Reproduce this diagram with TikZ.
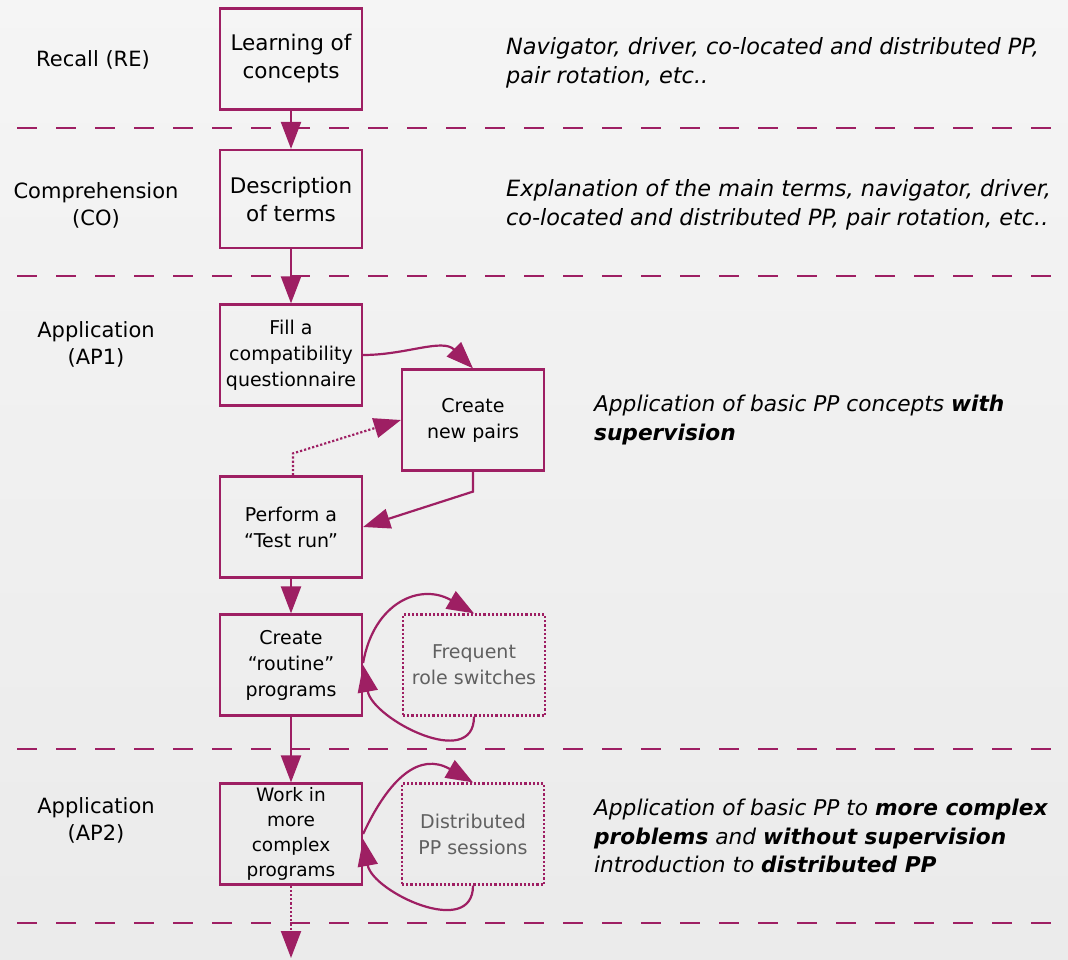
\documentclass[tikz,border=0pt]{standalone}
\usepackage{fontspec}
\setmainfont{DejaVu Sans}
\usetikzlibrary{arrows.meta,positioning}
\definecolor{plum}{RGB}{158,31,99}
\definecolor{softgray}{RGB}{96,96,96}

\begin{document}
\begin{tikzpicture}[>={Triangle[length=27pt, width=20pt]}, node distance=140pt, on grid, line width=2.2pt,
box/.style={rectangle, draw=plum, minimum width=142pt, minimum height=101pt, align=center, inner sep=1pt, font=\fontsize{19}{26}\selectfont},
ghost/.style={box, dotted, text=softgray},
level/.style={align=center, font=\fontsize{21}{27}\selectfont},
note/.style={anchor=west, align=left, inner sep=0pt, font=\itshape\fontsize{22.4}{28.5}\selectfont},
divider/.style={draw=plum, dash pattern=on 19.5pt off 19.5pt},
link/.style={color=plum}]
  \shade[top color=black!4, bottom color=black!8] (0,0) rectangle (1068pt,-960pt);
  \useasboundingbox (0,0) rectangle (1068pt,-960pt);
  % level separators
  \foreach \y in {128,276,749,923}
    \draw[divider] (17pt,-\y pt) -- (1052pt,-\y pt);

  % level names
  \node[level] (RE) at (93pt,-60pt) {Recall (RE)};
  \node[level] (CO) at (96pt,-205pt) {Comprehension\\(CO)};
  \node[level] (AP1) at (96pt,-344pt) {Application\\(AP1)};
  \node[level] (AP2) at (96pt,-820pt) {Application\\(AP2)};

  % activities
  \node[box, font=\fontsize{21.5}{28}\selectfont] (LEARN) at (291pt,-59pt) {Learning of\\concepts};
  \node[box, minimum height=98pt, font=\fontsize{21.5}{28}\selectfont] (DESCRIBE) [below=140pt of LEARN] {Description\\of terms};
  \node[box] (FILL) [below=156pt of DESCRIBE] {Fill a\\compatibility\\questionnaire};
  \node[box] (PAIRS) [right=182pt of FILL, yshift=-65pt] {Create\\new pairs};
  \node[box] (TESTRUN) [below=172pt of FILL] {Perform a\\“Test run”};
  \node[box] (ROUTINE) [below=138pt of TESTRUN] {Create\\“routine”\\programs};
  \node[ghost] (SWITCHES) [right=183pt of ROUTINE] {Frequent\\role switches};
  \node[box, font=\fontsize{18.5}{25}\selectfont] (COMPLEX) [below=169pt of ROUTINE] {Work in\\more\\complex\\programs};
  \node[ghost] (DISTRIB) [right=182pt of COMPLEX] {Distributed\\PP sessions};
  \coordinate (NEXT) at (291pt,-958pt);

  % descriptions
  \node[note] (RENOTE) at (505pt,-63pt) {Navigator, driver, co-located and distributed PP,\\pair rotation, etc..};
  \node[note] (CONOTE) at (505pt,-205pt) {Explanation of the main terms, navigator, driver,\\co-located and distributed PP, pair rotation, etc..};
  \node[note, font=\itshape\fontsize{21.7}{28.5}\selectfont] (AP1NOTE) at (593pt,-420pt) {Application of basic PP concepts \textbf{with}\\\textbf{supervision}};
  \node[note, font=\itshape\fontsize{21.7}{28.5}\selectfont] (AP2NOTE) at (593pt,-836pt) {Application of basic PP to \textbf{more complex}\\\textbf{problems} and \textbf{without supervision}\\introduction to \textbf{distributed PP}};

  \path[link, ->]
    (LEARN) edge (DESCRIBE)
    (DESCRIBE) edge (FILL)
    (FILL.east) edge[out=0, in=135] (PAIRS.north)
    (TESTRUN) edge (ROUTINE)
    (ROUTINE) edge (COMPLEX);
  \draw[link, ->] ([yshift=2pt]ROUTINE.east) to[out=80, in=150, looseness=1.3] (SWITCHES.north);
  \draw[link, ->] (SWITCHES.south) to[out=-90, in=-80, looseness=1.15] (ROUTINE.east);
  \draw[link, ->] (COMPLEX.east) to[out=65, in=150, looseness=1.3] (DISTRIB.north);
  \draw[link, ->] (DISTRIB.south) to[out=-90, in=-80, looseness=1.15] ([yshift=-5pt]COMPLEX.east);
  \draw[link, ->] (PAIRS.south) -- ++(0,-20pt) -- (TESTRUN.east);
  \draw[link, ->, dotted] ([xshift=2pt]TESTRUN.north) -- ++(0,22pt) -- (PAIRS.west);
  \draw[link, ->, dotted] (COMPLEX) -- (NEXT);
\end{tikzpicture}
\end{document}
